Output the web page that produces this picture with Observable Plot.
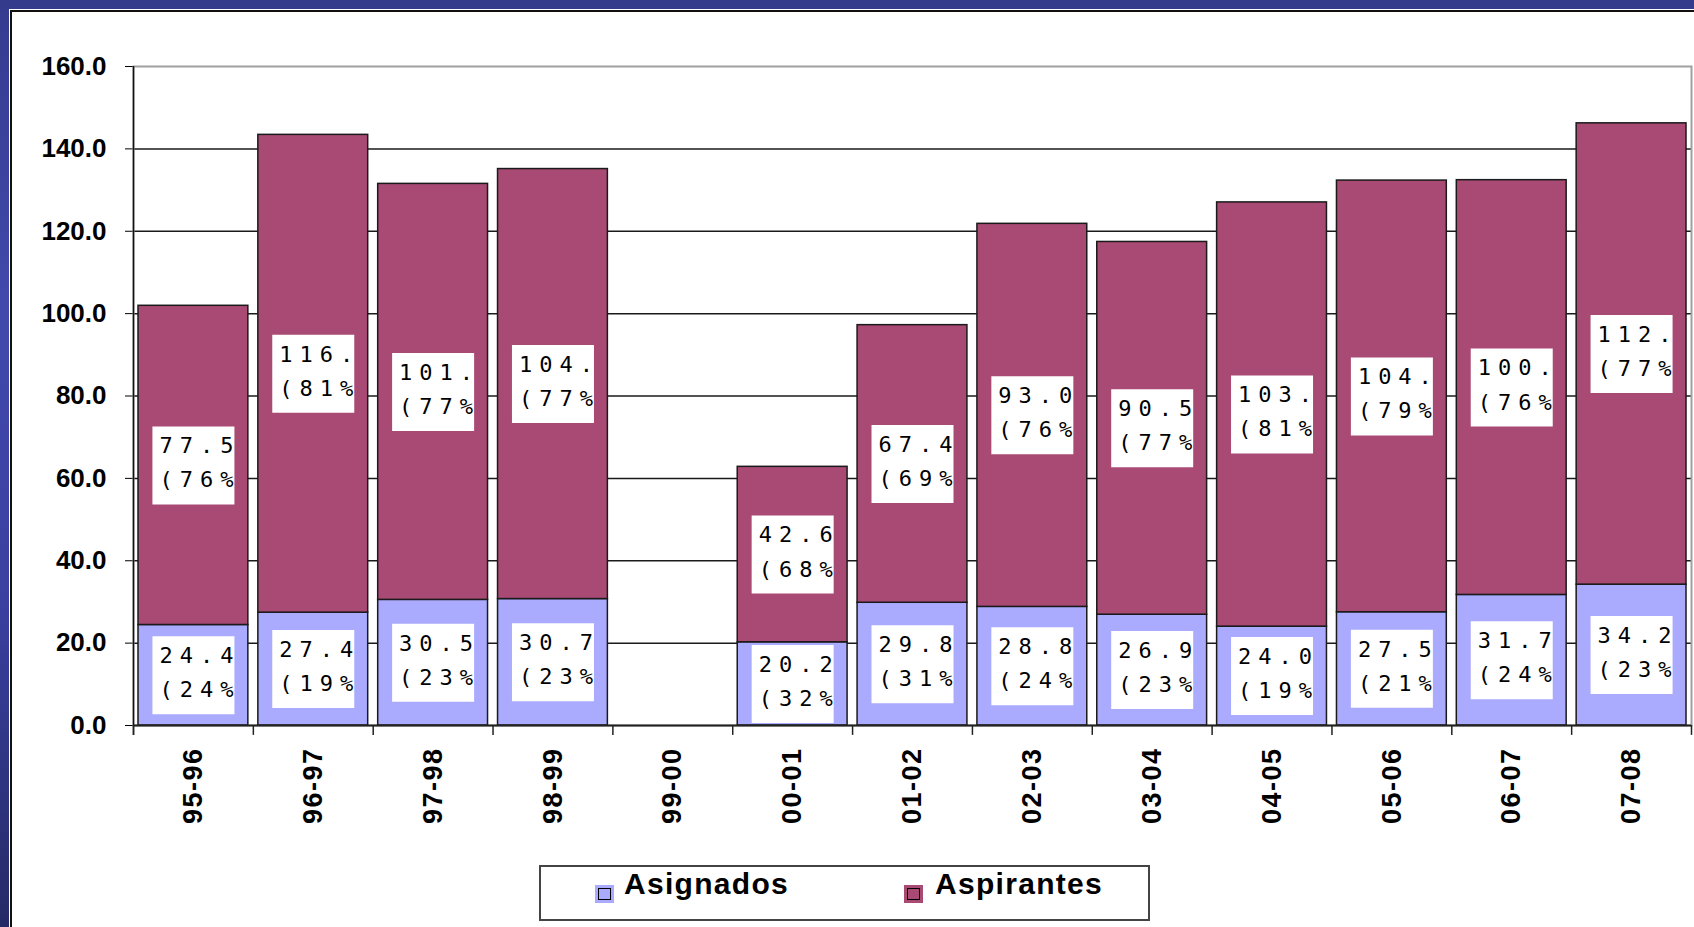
<!DOCTYPE html>
<html>
<head>
<meta charset="utf-8">
<script src="https://cdn.jsdelivr.net/npm/d3@7"></script>
<script src="https://cdn.jsdelivr.net/npm/@observablehq/plot@0.6"></script>
<style>
html, body { margin: 0; padding: 0; width: 1694px; height: 927px; overflow: hidden; }
body {
  position: relative;
  background: linear-gradient(to bottom, #353b8e 0px, #4149ab 300px, #3a40a0 600px, #252a66 927px);
  font-family: "Liberation Sans", Arial, sans-serif;
}
#topband { position: absolute; left: 0; top: 0; width: 1694px; height: 9px; background: #343a8c; }
#panel {
  position: absolute; left: 9px; top: 9px; right: 0; bottom: 0; background: #fff;
  box-shadow: inset 1px 1px 0 #fff, inset 3px 3px 0 #111;
}
#chart { position: absolute; left: 0; top: 0; }
#chart svg { background: transparent; overflow: visible; }
#chart [aria-label^="y-axis"] text { font: bold 26px "Liberation Sans", Arial, sans-serif; fill: #000; }
#chart [aria-label^="x-axis"] text { font: bold 27px "Liberation Sans", Arial, sans-serif; letter-spacing: 1.5px; fill: #000; }
#chart g[aria-label="text"] text { letter-spacing: 7px; }
#legend {
  position: absolute; left: 539px; top: 865px; width: 607px; height: 52px;
  border: 2px solid #444; background: #fff;
}
#legend .sw { position: absolute; top: 18px; width: 19px; height: 18px; box-sizing: border-box; padding: 3px; }
#legend .sw i { display: block; width: 13px; height: 12px; box-sizing: border-box; border: 1.5px solid #000; }
#legend .lt { position: absolute; top: 0; font: bold 30px/34px "Liberation Sans", Arial, sans-serif; letter-spacing: 1.3px; color: #000; white-space: nowrap; }
</style>
</head>
<body>
<div id="topband"></div>
<div id="panel"></div>
<div id="chart"></div>
<div id="legend"></div>
<script>
// ---- data ----
const categories = ["95-96","96-97","97-98","98-99","99-00","00-01","01-02","02-03","03-04","04-05","05-06","06-07","07-08"];
const asignados  = [24.4, 27.4, 30.5, 30.7, null, 20.2, 29.8, 28.8, 26.9, 24.0, 27.5, 31.7, 34.2];
const aspirantes = [77.5, 116.0, 101.0, 104.4, null, 42.6, 67.4, 93.0, 90.5, 103.0, 104.8, 100.7, 112.0];
const pctAsignados  = [24, 19, 23, 23, null, 32, 31, 24, 23, 19, 21, 24, 23];
const pctAspirantes = [76, 81, 77, 77, null, 68, 69, 76, 77, 81, 79, 76, 77];
const series = ["Asignados", "Aspirantes"];
const seriesColors = ["#aaaaff", "#a94a75"];
const yTicks = [0, 20, 40, 60, 80, 100, 120, 140, 160];

// ---- table for the library ----
const rows = [];
categories.forEach((c, i) => {
  if (asignados[i] == null) return;
  rows.push({cat: c, serie: series[0], value: asignados[i], base: 0, pct: pctAsignados[i]});
  rows.push({cat: c, serie: series[1], value: aspirantes[i], base: asignados[i], pct: pctAspirantes[i]});
});
rows.forEach(r => {
  r.y1 = r.base;
  r.y2 = r.base + r.value;
  r.mid = r.base + r.value / 2;
  r.label = r.value.toFixed(1) + "\n(" + r.pct + "%)";
});

const W = 1694, H = 860, ML = 133, MR = 3, MT = 66, MB = 135;
const step = (W - ML - MR) / categories.length;
const boxSymbol = { draw(ctx) { ctx.rect(-41, -39, 82, 78); } };

const chart = Plot.plot({
  width: W, height: H,
  marginLeft: ML, marginRight: MR, marginTop: MT, marginBottom: MB,
  style: {background: "transparent", fontFamily: "Liberation Sans, Arial, sans-serif", fontSize: "26px", fontWeight: "bold", color: "#000", overflow: "visible"},
  x: {domain: categories, range: [ML, W - MR], padding: 0, round: false, tickSize: 0, tickPadding: 22, tickRotate: -90, label: null},
  y: {domain: [0, 160], range: [H - MB, MT], ticks: yTicks, tickFormat: d => d.toFixed(1), tickSize: 8, tickPadding: 19, label: null},
  color: {domain: series, range: seriesColors},
  marks: [
    Plot.ruleY(yTicks.filter(t => t > 0 && t < 160), {stroke: "#1a1a1a", strokeWidth: 1.5}),
    Plot.frame({stroke: "#a0a0a0", strokeWidth: 2}),
    Plot.barY(rows, {x: "cat", y1: "y1", y2: "y2", fill: "serie", stroke: "#1a1a1a", strokeWidth: 1.5, insetLeft: 5, insetRight: 5}),
    Plot.dot(rows, {x: "cat", y: "mid", symbol: boxSymbol, fill: "#fff", stroke: "none"}),
    Plot.text(rows, {x: "cat", y: "mid", text: "label", textAnchor: "start", dx: -34, dy: -6, fontFamily: "DejaVu Sans Mono", fontSize: 22, fontWeight: "normal", lineHeight: 1.55, fill: "#000"}),
    Plot.ruleY([0], {stroke: "#222", strokeWidth: 2}),
    Plot.ruleX([categories[0]], {y1: -2.4, y2: 160, dx: -step / 2, stroke: "#111", strokeWidth: 1.5}),
    Plot.ruleX(categories, {y1: 0, y2: -2.4, dx: -step / 2, stroke: "#222", strokeWidth: 1.5}),
    Plot.ruleX([categories[categories.length - 1]], {y1: 0, y2: -2.4, dx: step / 2, stroke: "#222", strokeWidth: 1.5})
  ]
});
document.getElementById("chart").appendChild(chart);

// clip each label's text to its white box (as in the original, text is cut at the box edge)
(function clipLabels() {
  const svg = chart.tagName.toLowerCase() === "svg" ? chart : chart.querySelector("svg");
  const boxes = svg.querySelectorAll('g[aria-label="dot"] path');
  const texts = svg.querySelectorAll('g[aria-label="text"] text');
  const ns = "http://www.w3.org/2000/svg";
  let defs = svg.querySelector("defs");
  if (!defs) { defs = document.createElementNS(ns, "defs"); svg.insertBefore(defs, svg.firstChild); }
  texts.forEach((t, i) => {
    const b = boxes[i];
    if (!b) return;
    const g = document.createElementNS(ns, "g");
    t.parentNode.insertBefore(g, t);
    g.appendChild(t);
    const br = b.getBoundingClientRect();
    const inv = g.getScreenCTM().inverse();
    const p1 = svg.createSVGPoint(); p1.x = br.left; p1.y = br.top;
    const p2 = svg.createSVGPoint(); p2.x = br.right; p2.y = br.bottom;
    const a = p1.matrixTransform(inv), c = p2.matrixTransform(inv);
    const cp = document.createElementNS(ns, "clipPath");
    cp.setAttribute("id", "lblclip" + i);
    const rect = document.createElementNS(ns, "rect");
    rect.setAttribute("x", a.x); rect.setAttribute("y", a.y);
    rect.setAttribute("width", c.x - a.x); rect.setAttribute("height", c.y - a.y);
    cp.appendChild(rect);
    defs.appendChild(cp);
    g.setAttribute("clip-path", "url(#lblclip" + i + ")");
  });
})();

// legend (HTML, below the SVG area)
const legend = document.getElementById("legend");
const swLeft = [54, 363], txtLeft = [83, 394];
series.forEach((s, i) => {
  const sw = document.createElement("span");
  sw.className = "sw"; sw.style.left = swLeft[i] + "px"; sw.style.background = seriesColors[i];
  sw.appendChild(document.createElement("i"));
  legend.appendChild(sw);
  const lt = document.createElement("span");
  lt.className = "lt"; lt.style.left = txtLeft[i] + "px"; lt.textContent = s;
  legend.appendChild(lt);
});
</script>
</body>
</html>
